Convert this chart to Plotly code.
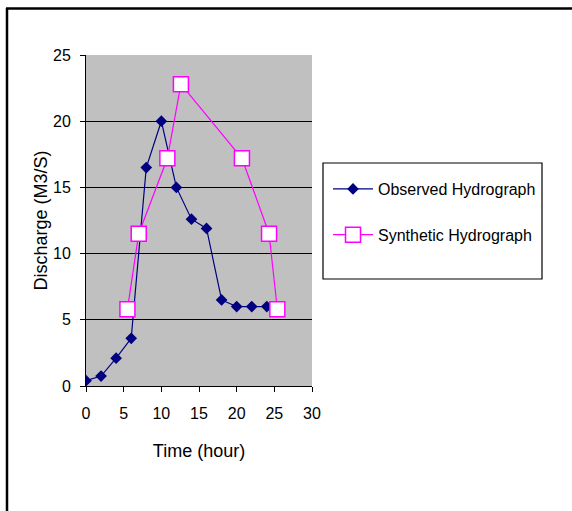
import plotly.graph_objects as go

obs_t = [0, 2, 4, 6, 8, 10, 12, 14, 16, 18, 20, 22, 24]
obs_q = [0.4, 0.75, 2.1, 3.6, 16.5, 20.0, 15.0, 12.6, 11.9, 6.5, 6.0, 6.0, 6.0]

syn_t = [5.5, 7.0, 10.8, 12.6, 20.7, 24.3, 25.4]
syn_q = [5.8, 11.5, 17.2, 22.8, 17.2, 11.5, 5.8]

x_ticks = [0, 5, 10, 15, 20, 25, 30]
y_ticks = [0, 5, 10, 15, 20, 25]

W, H = 572, 511
L, R, T, B = 86, 312, 55, 386  # plot area in px


def px(x):
    return (x - L) / (R - L)


def py(y):
    return (B - y) / (B - T)


FONT = "Liberation Sans, Arial, sans-serif"

fig = go.Figure()
fig.add_trace(go.Scatter(
    x=obs_t, y=obs_q, mode="lines+markers", name="Observed Hydrograph",
    line=dict(color="#000080", width=1.2),
    marker=dict(symbol="diamond", size=9, color="#000080"),
    legendgroup="a",
))
fig.add_trace(go.Scatter(
    x=syn_t, y=syn_q, mode="lines+markers", name="Synthetic Hydrograph",
    line=dict(color="#FF00FF", width=1.2),
    marker=dict(symbol="square", size=15, color="white",
                line=dict(color="#FF00FF", width=1.5)),
    legendgroup="b",
))

fig.update_layout(
    width=W, height=H,
    margin=dict(l=L, r=W - R, t=T, b=H - B),
    paper_bgcolor="white",
    plot_bgcolor="#C0C0C0",
    font=dict(family=FONT, size=16, color="black"),
    showlegend=True,
    legend=dict(
        x=px(328), y=py(172), xanchor="left", yanchor="top",
        borderwidth=0, bgcolor="rgba(0,0,0,0)",
        font=dict(size=16), tracegroupgap=22, itemwidth=40,
        traceorder="grouped",
    ),
    xaxis=dict(
        range=[0, 30], tickvals=x_ticks,
        showgrid=False, zeroline=False,
        showline=True, linecolor="black", linewidth=1,
        ticks="outside", ticklen=5, tickcolor="black",
        ticklabelstandoff=8,
        tickfont=dict(size=16),
        title=dict(text="Time (hour)", standoff=23, font=dict(size=18)),
    ),
    yaxis=dict(
        range=[0, 25], tickvals=y_ticks,
        showgrid=True, gridcolor="black", gridwidth=1.3,
        zeroline=False,
        showline=True, linecolor="black", linewidth=1,
        ticks="outside", ticklen=5, tickcolor="black",
        ticklabelstandoff=6,
        tickfont=dict(size=16),
        title=dict(text="Discharge (M3/S)", standoff=0, font=dict(size=18)),
    ),
    shapes=[
        dict(type="line", xref="paper", yref="paper",
             x0=px(7), x1=px(7), y0=py(8), y1=py(H + 5),
             line=dict(color="black", width=2.5)),
        dict(type="line", xref="paper", yref="paper",
             x0=px(6), x1=px(W + 5), y0=py(8.5), y1=py(8.5),
             line=dict(color="black", width=2.5)),
        dict(type="rect", xref="paper", yref="paper",
             x0=px(323), x1=px(542), y0=py(163), y1=py(279),
             line=dict(color="black", width=1.2), fillcolor="rgba(0,0,0,0)"),
    ],
)

fig.write_html("out.html")
